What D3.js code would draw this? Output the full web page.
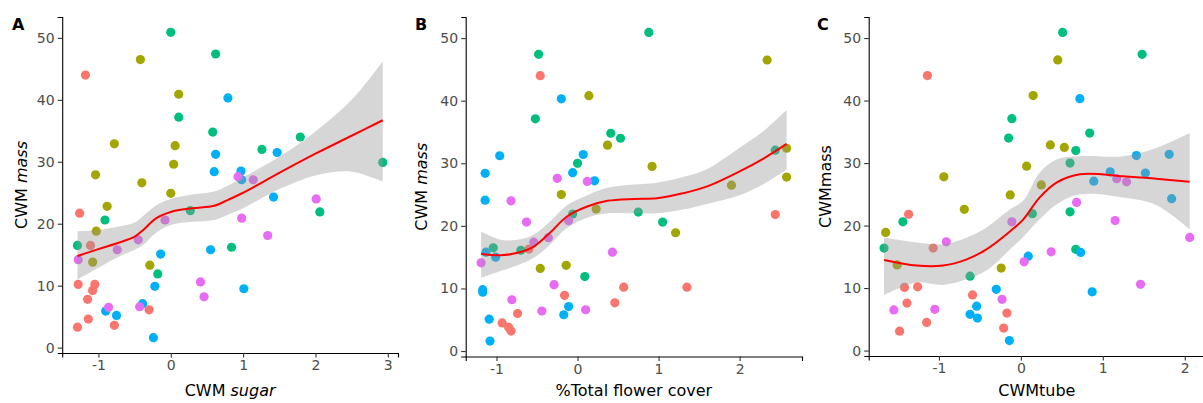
<!DOCTYPE html>
<html><head><meta charset="utf-8">
<script src="https://cdn.jsdelivr.net/npm/d3@7"></script>
<style>body{margin:0;background:#fff}svg{display:block}</style>
</head><body>
<svg id="chart" width="1203" height="403"></svg>
<script>
// group colours (ggplot default hue palette, 5 groups)
const groupColors = ["#F8766D", "#A3A500", "#00BF7D", "#00B0F6", "#E76BF3"];

// Panel A: [CWM sugar, CWM mass, group]
const pointsA = [
  [-1.18,44.0,0],[-1.26,21.7,0],[-1.11,16.5,0],[-1.28,10.2,0],[-1.05,10.2,0],[-1.08,9.2,0],[-1.15,7.8,0],[-0.78,3.6,0],[-1.14,4.6,0],[-1.29,3.3,0],[-0.30,6.1,0],
  [-0.42,46.5,1],[0.11,40.9,1],[-0.78,32.9,1],[0.06,32.6,1],[0.04,29.6,1],[-1.04,27.9,1],[-0.40,26.6,1],[0.0,24.9,1],[-0.88,22.8,1],[-1.03,18.8,1],[-1.08,13.8,1],[-0.29,13.3,1],
  [0.0,50.9,2],[0.11,37.2,2],[-0.91,20.6,2],[-1.29,16.5,2],[-0.18,11.9,2],[0.27,22.1,2],[0.62,47.4,2],[0.58,34.8,2],[1.79,34.0,2],[1.26,32.0,2],[2.93,29.9,2],[2.06,21.9,2],[0.84,16.2,2],
  [-0.14,15.1,3],[-0.22,9.9,3],[-0.90,5.9,3],[-0.75,5.2,3],[-0.39,7.1,3],[-0.24,1.6,3],[0.79,40.3,3],[0.62,31.2,3],[1.47,31.5,3],[0.60,28.4,3],[0.97,28.5,3],[0.98,27.1,3],[1.42,24.3,3],[0.55,15.8,3],[1.01,9.5,3],
  [-1.28,14.2,4],[-0.74,15.8,4],[-0.45,17.4,4],[-0.08,20.6,4],[-0.86,6.5,4],[-0.43,6.6,4],[0.41,10.6,4],[0.46,8.2,4],[0.93,27.6,4],[1.14,27.1,4],[2.01,24.0,4],[0.98,20.9,4],[1.34,18.1,4]
];
// Panel B: [%Total flower cover, CWM mass, group]
const pointsB = [
  [-0.46,44.0,0],[-0.60,16.3,0],[-0.16,8.9,0],[-0.74,6.0,0],[-0.93,4.5,0],[-0.85,3.8,0],[-0.82,3.2,0],[2.44,21.8,0],[0.57,10.2,0],[1.35,10.2,0],[0.46,7.7,0],
  [0.14,40.8,1],[-0.20,25.0,1],[0.23,22.7,1],[-0.46,13.2,1],[-0.14,13.7,1],[2.34,46.5,1],[0.37,32.9,1],[0.92,29.5,1],[2.58,32.4,1],[2.58,27.8,1],[1.90,26.5,1],[1.21,18.9,1],
  [-0.48,47.4,2],[-0.52,37.1,2],[0.0,30.0,2],[-0.06,21.9,2],[-1.04,16.5,2],[-0.70,16.1,2],[0.09,11.9,2],[0.88,50.9,2],[0.41,34.8,2],[0.53,34.0,2],[2.44,32.1,2],[0.75,22.2,2],[1.05,20.6,2],
  [-0.20,40.3,3],[-0.96,31.2,3],[-1.14,28.4,3],[0.07,31.4,3],[-0.06,28.5,3],[0.21,27.2,3],[-1.14,24.1,3],[-1.13,15.8,3],[-1.01,15.0,3],[-1.17,9.8,3],[-1.17,9.4,3],[-0.11,7.1,3],[-0.17,5.8,3],[-1.09,5.1,3],[-1.08,1.6,3],
  [-0.25,27.6,4],[0.12,27.1,4],[-0.82,24.0,4],[-0.63,20.6,4],[-0.11,20.8,4],[-1.19,14.1,4],[-0.54,17.4,4],[-0.36,18.1,4],[-0.81,8.2,4],[-0.29,10.6,4],[-0.44,6.4,4],[0.10,6.6,4],[0.43,15.8,4]
];
// Panel C: [CWMtube, CWM mass, group]
const pointsC = [
  [-1.14,44.0,0],[-1.37,21.8,0],[-1.07,16.4,0],[-1.42,10.1,0],[-1.26,10.2,0],[-0.59,8.9,0],[-1.39,7.6,0],[-1.15,4.5,0],[-1.48,3.1,0],[-0.21,3.6,0],[-0.17,6.0,0],
  [-0.94,27.8,1],[-0.69,22.6,1],[-1.65,18.9,1],[-1.51,13.7,1],[-0.24,13.2,1],[0.45,46.5,1],[0.15,40.8,1],[0.36,32.9,1],[0.53,32.5,1],[0.07,29.5,1],[0.25,26.5,1],[-0.13,24.9,1],
  [-1.44,20.6,2],[-1.67,16.4,2],[-0.62,11.9,2],[0.51,50.9,2],[1.48,47.4,2],[-0.11,37.1,2],[-0.15,34.0,2],[0.84,34.8,2],[0.67,32.0,2],[0.60,30.0,2],[0.14,21.9,2],[0.60,22.2,2],[0.67,16.2,2],
  [-0.54,7.1,3],[-0.62,5.8,3],[-0.53,5.2,3],[-0.30,9.8,3],[-0.14,1.6,3],[0.72,40.3,3],[1.41,31.2,3],[1.81,31.4,3],[0.89,27.1,3],[1.09,28.6,3],[1.52,28.4,3],[1.84,24.3,3],[0.73,15.7,3],[0.09,15.1,3],[0.87,9.4,3],
  [-0.91,17.4,4],[-1.55,6.5,4],[-1.05,6.6,4],[-0.23,8.2,4],[0.68,23.7,4],[-0.11,20.6,4],[1.15,20.8,4],[2.06,18.1,4],[0.37,15.8,4],[0.04,14.2,4],[1.46,10.6,4],[1.17,27.5,4],[1.29,27.0,4]
];

// loess fits: [x, fit, lower, upper]
const smoothA = [
  [-1.29,14.8,11.0,18.8],[-1.0,15.9,12.9,19.0],[-0.7,17.0,14.8,19.6],[-0.5,17.9,15.8,20.2],[-0.38,19.0,16.6,21.3],
  [-0.2,20.9,18.6,23.0],[0.0,21.9,19.8,24.0],[0.3,22.5,20.3,24.7],[0.6,22.9,20.6,25.2],[0.8,23.9,21.5,26.2],
  [1.0,25.0,22.5,27.5],[1.5,28.2,25.6,30.8],[2.0,31.3,27.8,34.9],[2.5,34.2,28.4,40.0],[2.93,36.7,26.8,46.2]
];
const smoothB = [
  [-1.19,15.5,11.7,19.1],[-0.95,15.3,12.8,17.8],[-0.74,15.7,13.7,17.8],[-0.54,16.7,14.9,18.6],[-0.34,18.9,17.0,20.7],
  [-0.13,21.5,19.7,23.3],[0.12,23.1,21.3,24.9],[0.37,24.0,22.0,26.1],[0.7,24.3,22.0,26.6],[0.98,24.4,22.0,26.9],
  [1.3,25.2,22.6,27.8],[1.6,26.3,23.5,29.1],[2.0,28.7,24.9,32.5],[2.3,30.8,26.7,35.2],[2.58,33.1,29.0,38.5]
];
const smoothC = [
  [-1.67,14.5,8.9,18.1],[-1.27,13.6,10.9,17.3],[-0.95,13.6,10.5,17.0],[-0.66,14.6,11.4,18.1],[-0.42,16.2,12.8,19.7],
  [-0.13,19.1,16.2,22.6],[0.03,21.0,18.2,24.0],[0.23,24.5,21.0,28.5],[0.44,26.9,23.4,30.6],[0.72,28.2,25.0,31.1],
  [1.25,27.9,24.5,31.1],[1.65,27.5,23.3,32.4],[2.06,27.0,19.4,34.8]
];

const yTicks = [0, 10, 20, 30, 40, 50];
const xTicksA = [-1, 0, 1, 2, 3];
const xTicksB = [-1, 0, 1, 2];
const xTicksC = [-1, 0, 1, 2];

const panels = [
  {label:"A", pts:pointsA, sm:smoothA, xt:xTicksA, xd:[-1.501,3.141], xr:[62.2,398], yr:[353,17],
   ytitle:[["CWM ",false],["mass",true]], xtitle:[["CWM ",false],["sugar",true]], lx:12, ytx:21},
  {label:"B", pts:pointsB, sm:smoothB, xt:xTicksB, xd:[-1.38,2.77], xr:[465.7,802], yr:[356.5,17],
   ytitle:[["CWM ",false],["mass",true]], xtitle:[["%Total flower cover",false]], lx:415, ytx:421},
  {label:"C", pts:pointsC, sm:smoothC, xt:xTicksC, xd:[-1.857,2.247], xr:[868.7,1205], yr:[356,17],
   ytitle:[["CWMmass",false]], xtitle:[["CWMtube",false]], lx:817, ytx:825}
];

const svg = d3.select("#chart");
const FONT = "DejaVu Sans, sans-serif";

panels.forEach(p => {
  const x = d3.scaleLinear().domain(p.xd).range(p.xr);
  const y = d3.scaleLinear().domain([-0.87, 53.37]).range(p.yr);
  const g = svg.append("g");

  // points
  g.append("g").selectAll("circle").data(p.pts).join("circle")
    .attr("cx", d => x(d[0])).attr("cy", d => y(d[1])).attr("r", 4.6)
    .attr("fill", d => groupColors[d[2]]);

  // ribbon
  const area = d3.area().x(d => x(d[0])).y0(d => y(d[2])).y1(d => y(d[3])).curve(d3.curveCatmullRom);
  g.append("path").datum(p.sm).attr("d", area).attr("fill", "#999999").attr("fill-opacity", 0.4);
  const line = d3.line().x(d => x(d[0])).y(d => y(d[1])).curve(d3.curveCatmullRom);
  g.append("path").datum(p.sm).attr("d", line).attr("fill", "none").attr("stroke", "#FF0000").attr("stroke-width", 2);

  // axes
  const ax = g.append("g").attr("transform", `translate(0,${p.yr[0]})`)
    .call(d3.axisBottom(x).tickValues(p.xt).tickFormat(d => String(d)).tickSizeOuter(0).tickSize(4.5).tickPadding(3));
  const ay = g.append("g").attr("transform", `translate(${p.xr[0]},0)`)
    .call(d3.axisLeft(y).tickValues(yTicks).tickFormat(d => String(d)).tickSizeOuter(0).tickSize(4.5).tickPadding(3));
  [ax, ay].forEach(a => {
    a.select(".domain").attr("stroke", "#000").attr("stroke-width", 1.1);
    a.selectAll(".tick line").attr("stroke", "#333").attr("stroke-width", 1.1);
    a.selectAll(".tick text").attr("fill", "#4D4D4D").style("font-family", FONT).style("font-size", "14px");
  });

  // x title
  const xt = g.append("text").attr("x", (p.xr[0] + p.xr[1]) / 2).attr("y", 396)
    .attr("text-anchor", "middle").style("font-family", FONT).style("font-size", "16px").attr("fill", "#000");
  p.xtitle.forEach(([t, it]) => xt.append("tspan").text(t).style("font-style", it ? "italic" : "normal"));
  // y title
  const yt = g.append("text").attr("transform", `translate(${p.ytx + 6},${(p.yr[0] + p.yr[1]) / 2}) rotate(-90)`)
    .attr("text-anchor", "middle").style("font-family", FONT).style("font-size", "16px").attr("fill", "#000");
  p.ytitle.forEach(([t, it]) => yt.append("tspan").text(t).style("font-style", it ? "italic" : "normal"));
  // panel label
  g.append("text").attr("x", p.lx).attr("y", 30).text(p.label)
    .style("font-family", FONT).style("font-size", "16px").style("font-weight", "bold").attr("fill", "#000");
});
</script>
</body></html>
